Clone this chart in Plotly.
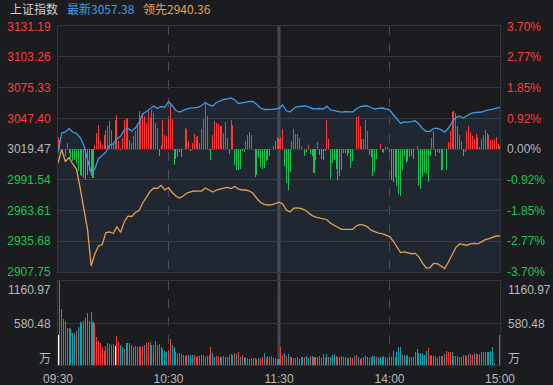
import plotly.graph_objects as go

# ---------------- data ----------------
prev_close = 3019.47
line_minutes = list(range(0, 241, 2))
bar_minutes = list(range(241))

index_line = [
    3015.83, 3034.04, 3034.95, 3038.14, 3034.95, 3033.77, 3029.94, 3023.11, 3010.36, 2997.61,
    3001.26, 3010.82, 3013.55, 3016.74, 3023.11, 3024.02, 3028.76, 3031.31, 3036.77, 3038.14,
    3035.86, 3038.59, 3043.60, 3051.34, 3053.62, 3055.90, 3058.63, 3056.35, 3058.17, 3057.26,
    3062.73, 3059.09, 3054.53, 3053.17, 3054.99, 3056.08, 3056.63, 3056.99, 3057.45, 3059.09,
    3061.82, 3059.72, 3058.63, 3061.82, 3063.18, 3064.55, 3065.01, 3065.92, 3064.09, 3060.91,
    3061.54, 3062.27, 3062.91, 3062.73, 3060.00, 3056.81, 3055.44, 3055.17, 3055.53, 3055.90,
    3056.54, 3059.54, 3054.53, 3053.17, 3056.35, 3057.99, 3058.36, 3058.63, 3057.72, 3056.35,
    3056.08, 3056.35, 3055.90, 3058.45, 3054.99, 3054.44, 3053.62, 3052.98, 3053.44, 3052.98,
    3053.17, 3055.90, 3058.17, 3058.63, 3058.63, 3057.26, 3055.90, 3056.54, 3056.81, 3056.08,
    3055.17, 3050.89, 3046.79, 3042.97, 3044.24, 3043.88, 3044.33, 3045.15, 3042.24, 3037.96,
    3035.59, 3035.59, 3038.32, 3038.23, 3037.05, 3034.77, 3038.59, 3044.24, 3048.07, 3049.52,
    3047.70, 3049.43, 3051.62, 3052.53, 3052.62, 3053.17, 3054.35, 3054.80, 3055.72, 3056.63,
    3057.38]

lead_line = [
    3006.72, 3019.01, 3008.09, 3011.73, 3005.81, 3001.26, 2984.41, 2966.65, 2946.61, 2912.92,
    2923.85, 2931.13, 2932.50, 2943.43, 2943.88, 2942.52, 2948.71, 2943.43, 2953.26, 2958.27,
    2958.00, 2961.64, 2963.46, 2970.29, 2975.30, 2980.77, 2983.95, 2983.50, 2986.41, 2982.31,
    2984.41, 2979.85, 2976.67, 2974.85, 2976.67, 2979.40, 2980.49, 2981.22, 2981.04, 2981.22,
    2983.95, 2982.31, 2980.31, 2982.13, 2983.22, 2983.95, 2984.59, 2983.50, 2985.32, 2982.86,
    2982.13, 2982.13, 2981.22, 2978.94, 2974.39, 2970.75, 2969.11, 2968.47, 2968.65, 2969.84,
    2971.02, 2969.38, 2963.92, 2962.10, 2965.56, 2965.92, 2965.29, 2963.92, 2961.55, 2958.82,
    2957.36, 2956.45, 2955.90, 2955.08, 2951.81, 2949.89, 2947.80, 2946.34, 2946.34, 2945.97,
    2946.25, 2949.35, 2950.89, 2950.26, 2948.62, 2945.61, 2944.16, 2942.97, 2942.33, 2941.15,
    2939.78, 2935.69, 2930.31, 2925.12, 2925.85, 2924.76, 2924.12, 2924.49, 2921.11, 2915.38,
    2911.10, 2911.56, 2915.38, 2915.02, 2912.92, 2910.65, 2916.56, 2923.85, 2929.77, 2933.04,
    2932.22, 2931.86, 2933.13, 2933.50, 2933.04, 2935.23, 2936.96, 2937.96, 2939.33, 2940.24,
    2940.36]

# red/green strength bars (indicator units)
strength = [
    12, 9, 0, 0, -7.7, 6, -4, -9, -12.7, -11,
    -14, -22.7, -26, -27.7, -29.3, -31, -26, -22.7, -27.7, -29.3,
    4, 15.7, 24, 7.3, 4, 14, 19, 22.3, 27.3, 19,
    5.7, 29, 34, 7.3, -1.5, 10.7, 29, 30.7, 29.7, 9,
    5.7, 12.3, 17.3, 25.7, 37.3, 29, 35.7, 32.3, 25.7, 37.3,
    30.7, 39, 35.7, 25.7, 20.7, -7.7, 4, 29, 14, 12.3,
    29.7, 44, 29.7, -16, -10, -8.7, -3.7, -8.3, 0, 20.7,
    19.7, 8, -2.3, 5.7, 15, 11.7, 13, 5.7, 19.7, 29.7,
    45, 32.3, -1, -11.7, 14, 27.3, 25.7, 24.7, 22.3, 22.3,
    15.7, 26.3, 10.7, -5, 29, 24, -16, -21, -21, -20.3,
    -2.3, -3.7, 8, 14, 16.3, 14, 0, -28.3, -26, -9.3,
    -18.3, -20.3, -19.3, -12.7, -11, -7.7, 0, 3, 8, 11.7,
    9.7, 11.7, 19.7, -17, -34.3, -41, -23.7, 8, 19.7, 15,
    15, 10.7, 2.3, 0, -7, -3.3, 4, -5, -7.7, -24.3,
    -11.7, 6.3, -6, -10.3, -11, -2.7, 29, 9.7, -30.3, -14.3,
    -11, -20.3, -31, -27.7, -21.7, -4.3, -4.3, -7.7, -4.3, -19.3,
    -12.7, 0, 31.7, 33, 22.3, 9.7, 9.7, 28.3, 17.3, -6,
    -8.3, -27.7, -23.7, -10.3, 0, 4.7, -3.7, -4.3, 1.7, 1.3,
    -3.7, -31, -33.7, -28.3, -37.7, -45.3, -47.7, -21.7, -7.7, -14.3,
    -12, -8.3, -7.7, -10, 0, 2.3, -37.7, -40.3, -28.7, -24.3,
    -25.3, -33.3, -7.7, 10.7, 17.3, -7, -3.7, -4.3, -21.7, -21.7,
    0, -21.7, 6.3, 17.3, 36.7, 38, 35.7, 23, 14, 7.3,
    -7, -3.3, 17.3, 23, 16.3, 12.3, 9.7, 15, 11.7, 1.3,
    9.7, 14, 18.3, 15.7, 14, 9, 9, 9.7, 11.7, 4.7,
    3]

# volume in 万
volume = [
    415, 1161, 769, 636, 613, 516, 507, 493, 438, 438,
    475, 530, 599, 576, 613, 654, 723, 613, 737, 599,
    576, 392, 332, 299, 253, 198, 263, 309, 290, 276,
    290, 263, 401, 322, 276, 253, 217, 299, 299, 299,
    276, 253, 263, 244, 263, 253, 263, 276, 299, 322,
    313, 276, 276, 336, 276, 286, 253, 217, 198, 184,
    207, 355, 276, 253, 184, 152, 166, 152, 138, 129,
    138, 138, 138, 138, 138, 106, 124, 124, 138, 138,
    106, 124, 138, 253, 161, 115, 124, 124, 115, 115,
    124, 115, 115, 138, 147, 138, 170, 152, 184, 106,
    138, 115, 92, 92, 83, 92, 92, 92, 83, 92,
    97, 115, 166, 97, 124, 106, 124, 92, 92, 83,
    83, 253, 138, 170, 124, 152, 115, 106, 92, 101,
    106, 78, 106, 115, 106, 124, 101, 124, 124, 115,
    115, 106, 124, 101, 152, 115, 152, 115, 106, 134,
    152, 124, 115, 106, 124, 106, 115, 92, 92, 106,
    92, 124, 134, 106, 87, 101, 115, 124, 115, 101,
    106, 124, 124, 106, 115, 106, 106, 124, 115, 101,
    106, 115, 193, 115, 184, 253, 253, 138, 138, 129,
    138, 115, 115, 115, 175, 221, 161, 161, 161, 138,
    193, 240, 129, 138, 129, 129, 101, 129, 129, 129,
    147, 193, 175, 184, 175, 129, 129, 129, 115, 115,
    138, 138, 129, 147, 147, 138, 161, 152, 152, 147,
    175, 184, 184, 175, 175, 193, 253, 23, 0, 0,
    415]

# minute direction: r = up, t = down, w = flat
volume_dir = ("wrrtrrrttt" "rttttttttt" "rrrrrrrrrr" "twrrttrtrr" "ttttrrrtrr"
              "trrrtrtttt" "rrtttrrtrr" "rtttrrttrt" "rrrrttrrtr" "rrtrrtrtrt"
              "rttrtrtrrt" "rrtrtrtttr" "trrtrtrrtr" "rtrtrttrtr" "rttrrttrtt"
              "trtrrtrttr" "rtrtrtrttt" "rttrtttttr" "tttrtttrtt" "trrrrttttt"
              "trrtttttrr" "trrrtrtrtr" "rrrtrrtrrt" "rrtrtttttt" "r")

price_ticks = [3131.19, 3103.26, 3075.33, 3047.40, 3019.47, 2991.54, 2963.61, 2935.68, 2907.75]
pct_ticks = ["3.70%", "2.77%", "1.85%", "0.92%", "0.00%", "-0.92%", "-1.85%", "-2.77%", "-3.70%"]
vol_ticks = [1160.97, 580.48]
time_ticks = [0, 60, 120, 180, 240]
time_labels = ["09:30", "10:30", "11:30", "14:00", "15:00"]
title_name = "上证指数"
title_last = "最新3057.38"
title_lead = "领先2940.36"

# ---------------- style ----------------
W, H = 553, 385
BG = "#1b1c20"
GRID = "#34353a"
RED = "#ff3b3b"
GREEN = "#19c552"
GREY = "#b8b8b8"
# bar colours carry a tiny transparency so plotly snaps narrow bars to 1 px
RED_BAR = "rgba(255,59,59,0.99)"
GREEN_BAR = "rgba(25,197,82,0.99)"
TEAL_BAR = "rgba(10,165,178,0.99)"
WHITE_BAR = "rgba(255,255,255,0.99)"
BLUE = "#3d9ae6"
ORANGE = "#e3a04e"
FONT = "Liberation Sans, Arial, sans-serif"
CJK = "Noto Sans CJK SC, sans-serif"


def py(px):
    return 1 - px / H


X0, X1 = 58 / W, 500 / W
MAIN = [py(271.7), py(26.3)]
VOL = [py(365), py(281)]


def tick_color(v):
    if v > prev_close + 0.01:
        return RED
    if v < prev_close - 0.01:
        return GREEN
    return GREY


left_text = [f'<span style="color:{tick_color(v)}">{v:.2f}</span>' for v in price_ticks]
right_text = [f'<span style="color:{tick_color(v)}">{t}</span>' for v, t in zip(price_ticks, pct_ticks)]

fig = go.Figure()

# area under index line
fig.add_trace(go.Scatter(x=line_minutes, y=index_line, xaxis="x", yaxis="y", mode="lines",
                         line=dict(width=0), fill="tozeroy",
                         fillcolor="rgba(70,115,170,0.13)", hoverinfo="skip"))
# strength bars
fig.add_trace(go.Bar(x=bar_minutes, y=strength, xaxis="x", yaxis="y2", width=0.55,
                     marker=dict(color=[RED_BAR if v > 0 else GREEN_BAR for v in strength],
                                 line=dict(width=0))))
# lines
fig.add_trace(go.Scatter(x=line_minutes, y=lead_line, xaxis="x", yaxis="y3", mode="lines",
                         line=dict(color=ORANGE, width=1.3)))
fig.add_trace(go.Scatter(x=line_minutes, y=index_line, xaxis="x", yaxis="y3", mode="lines",
                         line=dict(color=BLUE, width=1.3)))
# volume
dir_color = {"r": RED_BAR, "t": TEAL_BAR, "w": WHITE_BAR}
fig.add_trace(go.Bar(x=bar_minutes, y=volume, xaxis="x2", yaxis="y4", width=0.55,
                     marker=dict(color=[dir_color[c] for c in volume_dir], line=dict(width=0))))

axis_common = dict(showline=True, mirror=True, linecolor=GRID, linewidth=1, zeroline=False,
                   fixedrange=True, automargin=False)

fig.update_layout(
    width=W, height=H, margin=dict(l=0, r=0, t=0, b=0, pad=0), autosize=False,
    paper_bgcolor=BG, plot_bgcolor=BG, showlegend=False, bargap=0,
    font=dict(family=FONT, size=12, color=GREY),
    xaxis=dict(domain=[X0, X1], range=[0, 240], anchor="y", tickvals=[60, 180],
               showticklabels=False, showgrid=True, gridcolor="#4a4b50", griddash="dash",
               gridwidth=1, **axis_common),
    yaxis=dict(domain=MAIN, range=[price_ticks[-1], price_ticks[0]], tickvals=price_ticks,
               ticktext=left_text, showgrid=True, gridcolor=GRID, ticks="",
               ticklabelstandoff=4, tickfont=dict(size=12, family=FONT), **axis_common),
    yaxis2=dict(overlaying="y", range=[-122.7, 122.7], visible=False, fixedrange=True,
                automargin=False),
    yaxis3=dict(overlaying="y", side="right", range=[price_ticks[-1], price_ticks[0]],
                tickvals=price_ticks, ticktext=right_text, showgrid=False, zeroline=False,
                ticks="", ticklabelstandoff=6, tickfont=dict(size=12, family=FONT),
                fixedrange=True, automargin=False),
    xaxis2=dict(domain=[X0, X1], range=[0, 240], anchor="y4", tickvals=time_ticks,
                ticktext=time_labels, showgrid=True, gridcolor="#4a4b50", griddash="dash",
                ticks="", ticklabelstandoff=3, tickfont=dict(size=12, family=FONT, color=GREY),
                **axis_common),
    yaxis4=dict(domain=VOL, range=[0, 1160.97], tickvals=[0] + vol_ticks, showticklabels=False,
                showgrid=True, gridcolor=GRID, ticks="", **axis_common),
)

# 11:30 / 13:00 separator
fig.add_shape(type="line", xref="x", yref="paper", x0=120, x1=120, y0=VOL[0], y1=MAIN[1],
              line=dict(color="#46474c", width=3), layer="below")

ann = []
ann.append(dict(text=title_name, x=8 / W, y=py(8), xref="paper", yref="paper", xanchor="left",
                yanchor="middle", showarrow=False, font=dict(family=CJK, size=12, color="#cfcfcf")))
ann.append(dict(text=title_last, x=65 / W, y=py(8), xref="paper", yref="paper", xanchor="left",
                yanchor="middle", showarrow=False, font=dict(family=CJK, size=12, color="#3e9ded")))
ann.append(dict(text=title_lead, x=141 / W, y=py(8), xref="paper", yref="paper", xanchor="left",
                yanchor="middle", showarrow=False, font=dict(family=CJK, size=12, color="#e9a24c")))
for v, shift in [(vol_ticks[0], -9), (vol_ticks[1], -1)]:
    txt = f"{v:.2f}"
    ann.append(dict(text=txt, x=53 / W, xref="paper", y=v, yref="y4", xanchor="right",
                    yanchor="middle", yshift=shift, showarrow=False,
                    font=dict(family=FONT, size=12, color=GREY)))
    ann.append(dict(text=txt, x=506 / W, xref="paper", y=v, yref="y4", xanchor="left",
                    yanchor="middle", yshift=shift, showarrow=False,
                    font=dict(family=FONT, size=12, color=GREY)))
for xx, anc in [(53 / W, "right"), (506 / W, "left")]:
    ann.append(dict(text="万", x=xx, xref="paper", y=0, yref="y4", xanchor=anc,
                    yanchor="middle", yshift=8, showarrow=False,
                    font=dict(family=CJK, size=12, color=GREY)))
fig.update_layout(annotations=ann)

fig.write_html(
    "out.html",
    config={"displayModeBar": False},
    post_script="document.body.style.margin='0';document.body.style.background='#1b1c20';",
)
